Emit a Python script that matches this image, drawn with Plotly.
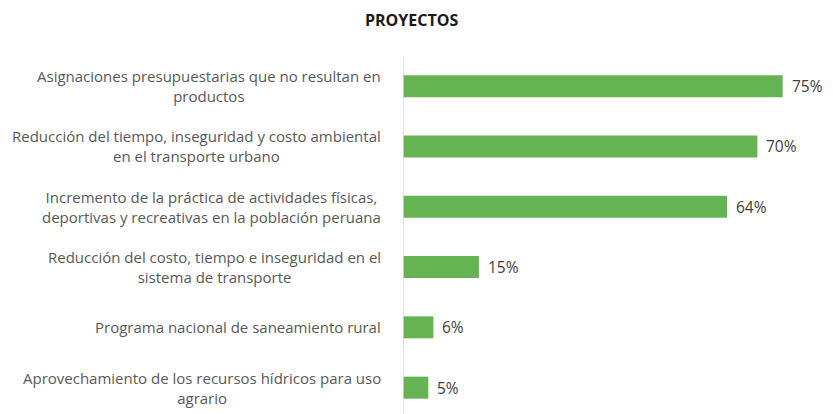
import plotly.graph_objects as go

categories = [
    "Asignaciones presupuestarias que no resultan en<br>productos",
    "Reducción del tiempo, inseguridad y costo ambiental<br>en el transporte urbano",
    "Incremento de la práctica de actividades físicas,<br>deportivas y recreativas en la población peruana",
    "Reducción del costo, tiempo e inseguridad en el<br>sistema de transporte",
    "Programa nacional de saneamiento rural",
    "Aprovechamiento de los recursos hídricos para uso<br>agrario",
]
values = [0.75, 0.70, 0.64, 0.15, 0.06, 0.05]
value_labels = ["75%", "70%", "64%", "15%", "6%", "5%"]
title_text = "PROYECTOS"

FONT = "Open Sans"
BAR_COLOR = "#66B353"
LABEL_COLOR = "#595959"
VALUE_COLOR = "#404040"

ypos = list(range(len(categories)))

# page has an 8px body margin; compensate
OFF = 8
W, H = 833 - OFF, 414 - OFF
ml = 403 - OFF
mt = 56 - OFF
mr = W - (808 - OFF)
mb = 0
plot_h = H - mt - mb
step = 60.3
bottom_val = -0.5 + plot_h / step

fig = go.Figure()
fig.add_trace(go.Bar(
    x=values,
    y=ypos,
    orientation="h",
    marker=dict(color=BAR_COLOR, line=dict(width=0)),
    width=0.365,
    hoverinfo="skip",
))

annotations = []
for yi, cat in zip(ypos, categories):
    annotations.append(dict(
        x=0, y=yi, xref="x", yref="y", text=cat, showarrow=False,
        xanchor="right", yanchor="middle", align="center", xshift=-20,
        font=dict(family=FONT, size=15, color=LABEL_COLOR),
    ))
for yi, v, lab in zip(ypos, values, value_labels):
    annotations.append(dict(
        x=v, y=yi, xref="x", yref="y", text=lab, showarrow=False,
        xanchor="left", yanchor="middle", xshift=7,
        font=dict(family=FONT, size=15.5, color=VALUE_COLOR),
    ))
annotations.append(dict(
    x=(411 - OFF - ml) / (W - ml - mr), y=(H - (20 - OFF) - mb) / plot_h,
    xref="paper", yref="paper", text="<b>" + title_text + "</b>",
    showarrow=False, xanchor="center", yanchor="middle",
    font=dict(family=FONT, size=16, color="#1a1a1a"),
))

fig.update_layout(
    width=W, height=H,
    margin=dict(l=ml, r=mr, t=mt, b=mb, pad=0),
    paper_bgcolor="white", plot_bgcolor="white",
    showlegend=False,
    xaxis=dict(range=[0, 0.8], showgrid=False, zeroline=False, showticklabels=False,
               showline=False, fixedrange=True),
    yaxis=dict(range=[bottom_val, -0.5], showgrid=False, zeroline=False,
               showticklabels=False, showline=False, fixedrange=True),
    annotations=annotations,
    shapes=[dict(type="line", xref="x", yref="paper", x0=0, x1=0, y0=0, y1=1,
                 line=dict(color="#D9D9D9", width=1.5))],
)

fig.write_html("out.html")
